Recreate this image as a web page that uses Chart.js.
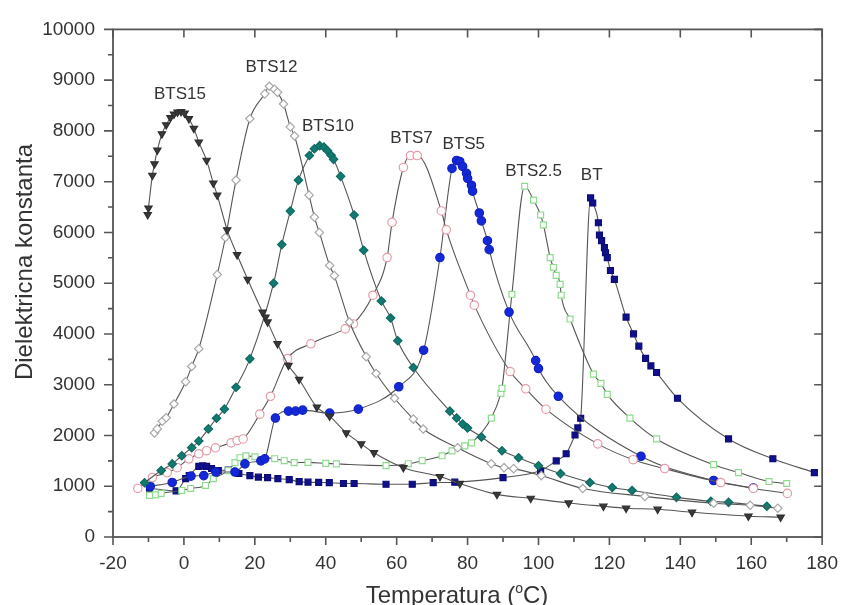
<!DOCTYPE html>
<html>
<head>
<meta charset="utf-8">
<script src="https://cdn.jsdelivr.net/npm/chart.js@4.4.1/dist/chart.umd.min.js"></script>
<style>
  html, body { margin: 0; padding: 0; background: #fff; }
</style>
</head>
<body>
<canvas id="chart" width="853" height="605"></canvas>
<script>
// Temperature (°C) and dielectric constant for each sample
var bts15T = [-10.2, -10, -8.9, -8.3, -7.5, -6.2, -5, -3.8, -2.8, -1.8, -0.8, 0.2, 1.4, 2.8, 4.2, 6.4, 8.3, 9.4, 12.2, 15, 18, 22.2, 23, 23.6, 26.4, 29.5, 32.5, 37.5, 41.1, 45.8, 50, 53.6, 61.9, 72.2, 77.8, 88.3, 97.8, 108.5, 118.3, 124.7, 133.6, 143.3, 159.2, 168.3];
var bts15E = [6350, 6480, 7125, 7350, 7620, 7940, 8120, 8260, 8330, 8370, 8380, 8350, 8240, 8050, 7780, 7420, 6970, 6735, 6050, 5560, 5075, 4430, 4330, 4236, 3806, 3380, 3104, 2557, 2381, 2050, 1835, 1659, 1366, 1190, 1054, 839, 761, 670, 605, 566, 547, 488, 410, 390];

var bts12T = [-8.3, -7.5, -6.1, -5, -2.8, 0.5, 2.2, 4.2, 9.4, 11.7, 14.7, 18.6, 22.8, 24.1, 25.5, 26.4, 28.1, 30, 31.2, 35.3, 36.8, 38.2, 41.1, 42.4, 46.7, 51.4, 54.2, 59.4, 64.7, 67.5, 77.2, 86.7, 90.3, 93, 100.8, 112.5, 130, 149.4, 159.7, 167.5];
var bts12E = [2050, 2130, 2280, 2350, 2620, 3060, 3360, 3710, 5170, 5900, 7030, 8240, 8730, 8880, 8820, 8760, 8530, 8080, 7900, 6735, 6300, 6000, 5350, 5150, 4236, 3553, 3221, 2733, 2323, 2128, 1757, 1444, 1366, 1347, 1210, 956, 800, 664, 625, 566];

var bts10T = [-11.1, -6.4, -3.3, -0.6, 2.2, 4.2, 6.9, 9.2, 11.4, 14.7, 18.6, 25.3, 27.6, 30, 32.3, 35.4, 36.8, 38.3, 39.5, 40.5, 41.5, 42.2, 44.2, 48, 50.7, 55.7, 58.3, 60.3, 64.7, 75, 76.9, 78.6, 80, 83.9, 89.7, 94.4, 100, 106.2, 114.5, 120.8, 126.4, 138.9, 148.6, 153.6, 164.4];
var bts10E = [1070, 1310, 1440, 1600, 1760, 1890, 2130, 2340, 2520, 2950, 3510, 5000, 5760, 6420, 7030, 7515, 7650, 7710, 7680, 7610, 7520, 7440, 7105, 6344, 5650, 4650, 4314, 3865, 3338, 2479, 2343, 2225, 2147, 1971, 1698, 1562, 1405, 1249, 1074, 976, 917, 781, 703, 683, 605];

var bts7T = [-13, -8.9, -4.7, -1.9, 1.4, 4.2, 6.4, 8.9, 13.3, 15, 16.7, 21.4, 24.4, 29.2, 35.8, 45.5, 47.8, 53.3, 57.3, 58.7, 61.9, 63.9, 65.8, 72.6, 74, 80.8, 81.9, 92, 96.4, 102.1, 116.7, 126.7, 135.6, 151.4, 160.6, 170.2];
var bts7E = [956, 1170, 1270, 1366, 1540, 1640, 1700, 1757, 1854, 1900, 1932, 2420, 2772, 3514, 3806, 4100, 4197, 4763, 5505, 6200, 7280, 7515, 7515, 6423, 6052, 4763, 4568, 3260, 2920, 2518, 1835, 1523, 1347, 1074, 956, 859];

var bts5T = [-9.5, -3.3, 2, 5.6, 9, 14.4, 17.2, 21.7, 22.8, 25.8, 29.5, 31.5, 33.5, 41.1, 49.2, 60.6, 67.6, 72.2, 75.6, 76.9, 77.8, 78.6, 79.7, 80, 81.1, 81.4, 83.3, 83.9, 85.6, 86.1, 91.7, 99.2, 100, 105.6, 128.9, 149.4, 160.6];
var bts5E = [1000, 1075, 1200, 1210, 1280, 1280, 1440, 1500, 1540, 2343, 2480, 2480, 2500, 2440, 2520, 2960, 3680, 5505, 7261, 7418, 7398, 7300, 7164, 7066, 6930, 6813, 6383, 6227, 5837, 5661, 4431, 3475, 3319, 2772, 1590, 1113, 966];

var bts25T = [-9.7, -8, -6.4, -0.6, 1.9, 6.1, 8.3, 12.5, 14.4, 15.8, 17.5, 20, 25.6, 28.3, 31.1, 35, 40, 43, 57, 63.3, 67.2, 72.8, 75.6, 79.2, 81.1, 86.7, 89.4, 89.7, 92.5, 96.1, 98.6, 100.6, 101.4, 103.3, 104.2, 105, 106.1, 106.4, 108.9, 115.5, 117.6, 119.4, 125.8, 133.3, 149.4, 156.4, 165, 170];
var bts25E = [820, 830, 860, 917, 956, 1015, 1150, 1308, 1464, 1562, 1600, 1581, 1542, 1503, 1464, 1470, 1450, 1440, 1405, 1444, 1503, 1600, 1698, 1796, 1854, 2343, 2830, 2928, 4782, 6910, 6637, 6344, 6149, 5505, 5310, 5153, 4978, 4763, 4294, 3210, 3026, 2811, 2343, 1932, 1425, 1269, 1093, 1054];

var btT = [-9.7, -2.2, 0.5, 1.5, 4.2, 5.3, 6.4, 7.8, 9.7, 12.5, 15.5, 18.6, 21, 23.6, 26.5, 29.7, 32.5, 35, 38, 41, 45, 48, 57, 64.4, 70.3, 76.4, 90, 100.6, 105, 107.8, 110.3, 111.1, 111.9, 114.7, 115.3, 116.9, 117.2, 117.8, 118.6, 118.9, 119.4, 120.3, 121.4, 124.7, 126.8, 128.3, 130.2, 131.7, 133.3, 139.2, 153.6, 166.1, 177.8];
var btE = [960, 910, 1150, 1210, 1390, 1400, 1390, 1350, 1310, 1320, 1250, 1210, 1180, 1170, 1150, 1130, 1090, 1080, 1075, 1070, 1055, 1055, 1040, 1040, 1070, 1080, 1170, 1310, 1500, 1640, 2010, 2150, 2340, 6680, 6580, 6190, 5950, 5840, 5700, 5600, 5505, 5250, 5075, 4333, 4002, 3760, 3520, 3370, 3240, 2733, 1932, 1542, 1269];

// Curve names and where they sit on the plot (°C, value)
var seriesNames = ['BTS15', 'BTS12', 'BTS10', 'BTS7', 'BTS5', 'BTS2.5', 'BT'];
var labelT = [-1.1, 24.7, 40.6, 64.2, 78.9, 98.6, 115];
var labelE = [8712, 9258, 8087, 7853, 7736, 7209, 7131];

var xTicks = { min: -20, max: 180, step: 20 };
var yTicks = { min: 0, max: 10000, step: 1000 };

function pairs(t, e) {
    return t.map(function(v, i) { return { x: v, y: e[i] }; });
}

function series(label, t, e, style, fill, stroke, rotation) {
    return {
        label: label,
        data: pairs(t, e),
        borderColor: '#555',
        borderWidth: 1.1,
        tension: 0.4,
        cubicInterpolationMode: 'monotone',
        pointStyle: style,
        pointRotation: rotation || 0,
        pointRadius: 4.2,
        pointBorderWidth: 1.2,
        pointBackgroundColor: fill,
        pointBorderColor: stroke,
        fill: false
    };
}

var datasets = [
    series(seriesNames[0], bts15T, bts15E, 'triangle', '#3a3a3a', '#2e2e2e', 180),
    series(seriesNames[1], bts12T, bts12E, 'rectRot', '#ffffff', '#a8a8a8'),
    series(seriesNames[2], bts10T, bts10E, 'rectRot', '#127a70', '#0e6a62'),
    series(seriesNames[3], bts7T, bts7E, 'circle', '#ffffff', '#e69aa6'),
    series(seriesNames[4], bts5T, bts5E, 'circle', '#1428d8', '#1020c0'),
    series(seriesNames[5], bts25T, bts25E, 'rect', '#ffffff', '#8fdc8f'),
    series(seriesNames[6], btT, btE, 'rect', '#10108a', '#0c0c78')
];

var font = "'Liberation Sans', Arial, sans-serif";

// Frame with ticks like the original plot (outward on left/bottom, inward on top/right)
var framePlugin = {
    id: 'frame',
    afterDatasetsDraw: function(chart) {
        var ctx = chart.ctx;
        var a = chart.chartArea;
        var xs = chart.scales.x;
        var ys = chart.scales.y;
        ctx.save();
        ctx.strokeStyle = '#555';
        ctx.lineWidth = 1.8;
        ctx.strokeRect(a.left, a.top, a.right - a.left, a.bottom - a.top);
        ctx.lineWidth = 1.6;
        ctx.beginPath();
        for (var v = xTicks.min; v <= xTicks.max; v += xTicks.step / 2) {
            var px = xs.getPixelForValue(v);
            var major = (v - xTicks.min) % xTicks.step === 0;
            ctx.moveTo(px, a.bottom);
            ctx.lineTo(px, a.bottom + (major ? 8 : 5));
            if (major) {
                ctx.moveTo(px, a.top);
                ctx.lineTo(px, a.top + 8);
            }
        }
        for (var w = yTicks.min; w <= yTicks.max; w += yTicks.step / 2) {
            var py = ys.getPixelForValue(w);
            var majorY = (w - yTicks.min) % yTicks.step === 0;
            ctx.moveTo(a.left, py);
            ctx.lineTo(a.left - (majorY ? 9 : 5), py);
            if (majorY) {
                ctx.moveTo(a.right, py);
                ctx.lineTo(a.right - 8, py);
            }
        }
        ctx.stroke();
        ctx.restore();
    }
};

// Curve names and axis titles
var textPlugin = {
    id: 'texts',
    afterDraw: function(chart) {
        var ctx = chart.ctx;
        var xs = chart.scales.x;
        var ys = chart.scales.y;
        ctx.save();
        ctx.fillStyle = '#333';
        ctx.font = '17px ' + font;
        ctx.textAlign = 'center';
        ctx.textBaseline = 'middle';
        seriesNames.forEach(function(name, i) {
            ctx.fillText(name, xs.getPixelForValue(labelT[i]), ys.getPixelForValue(labelE[i]));
        });

        // y title
        ctx.font = '24px ' + font;
        ctx.textBaseline = 'alphabetic';
        ctx.save();
        ctx.translate(32, 262);
        ctx.rotate(-Math.PI / 2);
        ctx.fillText('Dielektricna konstanta', 0, 0);
        ctx.restore();

        // x title with superscript o
        var p1 = 'Temperatura (', sup = 'o', p2 = 'C)';
        ctx.font = '24px ' + font;
        var w1 = ctx.measureText(p1).width, w3 = ctx.measureText(p2).width;
        ctx.font = '14px ' + font;
        var w2 = ctx.measureText(sup).width;
        var x0 = 457 - (w1 + w2 + w3) / 2;
        var base = 603;
        ctx.textAlign = 'left';
        ctx.font = '24px ' + font;
        ctx.fillText(p1, x0, base);
        ctx.font = '14px ' + font;
        ctx.fillText(sup, x0 + w1, base - 10);
        ctx.font = '24px ' + font;
        ctx.fillText(p2, x0 + w1 + w2, base);
        ctx.restore();
    }
};

new Chart(document.getElementById('chart'), {
    type: 'line',
    data: { datasets: datasets },
    options: {
        responsive: false,
        animation: false,
        devicePixelRatio: 1,
        layout: { padding: { left: 0, right: 20, top: 25, bottom: 0 } },
        plugins: {
            legend: { display: false },
            tooltip: { enabled: false }
        },
        scales: {
            x: {
                type: 'linear',
                min: xTicks.min,
                max: xTicks.max,
                afterFit: function(scale) { scale.height = 68; },
                grid: { display: false, drawTicks: false },
                border: { display: false },
                ticks: {
                    stepSize: xTicks.step,
                    padding: 15,
                    color: '#333',
                    font: { family: font, size: 19 },
                    callback: function(value) { return String(value); }
                }
            },
            y: {
                min: yTicks.min,
                max: yTicks.max,
                afterFit: function(scale) { scale.width = 113; },
                grid: { display: false, drawTicks: false },
                border: { display: false },
                ticks: {
                    stepSize: yTicks.step,
                    padding: 18,
                    color: '#333',
                    font: { family: font, size: 19 },
                    callback: function(value) { return String(value); }
                }
            }
        }
    },
    plugins: [framePlugin, textPlugin]
});
</script>
</body>
</html>
